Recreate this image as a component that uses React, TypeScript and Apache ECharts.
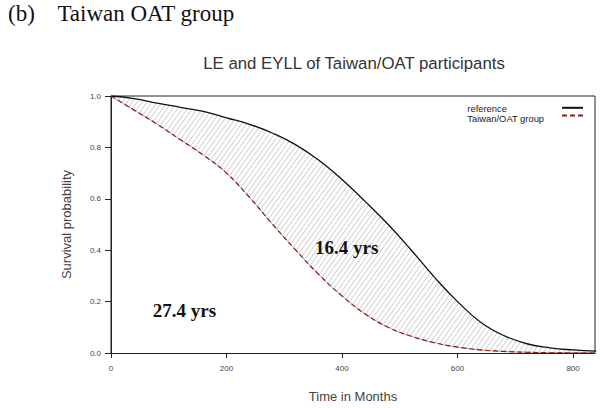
import React, { useEffect, useRef } from "react";
import * as echarts from "echarts";

const months = [0, 40, 80, 120, 160, 200, 240, 280, 320, 360, 400, 440, 480, 520, 560, 600, 640, 680, 720, 760, 800, 840];
const referenceSurv = [1.0, 0.99, 0.972, 0.956, 0.94, 0.915, 0.89, 0.855, 0.81, 0.75, 0.675, 0.59, 0.5, 0.4, 0.295, 0.2, 0.12, 0.068, 0.036, 0.02, 0.012, 0.007];
const oatSurv = [1.0, 0.945, 0.89, 0.83, 0.77, 0.7, 0.605, 0.5, 0.4, 0.305, 0.222, 0.152, 0.1, 0.065, 0.04, 0.023, 0.012, 0.006, 0.003, 0.001, 0.0, 0.0];
const yTicks = [0, 0.2, 0.4, 0.6, 0.8, 1.0];
const xTicks = [0, 200, 400, 600, 800];
const seriesNames = ["reference", "Taiwan/OAT group"];
const annotations = [
  { text: "16.4 yrs", month: 408, surv: 0.41 },
  { text: "27.4 yrs", month: 127, surv: 0.165 },
];

function makeHatch() {
  const w = 5;
  const h = 7;
  const c = document.createElement("canvas");
  c.width = w;
  c.height = h;
  const ctx = c.getContext("2d")!;
  ctx.strokeStyle = "#b4b4b4";
  ctx.lineWidth = 0.7;
  for (const off of [-w, 0, w]) {
    ctx.beginPath();
    ctx.moveTo(off - w * 0.3, h + h * 0.3);
    ctx.lineTo(off + w * 1.3, -h * 0.3);
    ctx.stroke();
  }
  return { image: c.toDataURL(), repeat: "repeat", imageWidth: w, imageHeight: h };
}

export default function App() {
  const ref = useRef<HTMLDivElement>(null);
  useEffect(() => {
    if (!ref.current) return;
    const chart = echarts.init(ref.current, null, { renderer: "svg" });
    const oatPts = months.map((m, i) => [m, oatSurv[i]]);
    const refPts = months.map((m, i) => [m, referenceSurv[i]]);
    const labelStyle = { fontFamily: "Liberation Sans, Arial, sans-serif", color: "#444", fontSize: 8 };
    const smoothOpts = { smooth: 0.45 };
    chart.setOption({
      animation: false,
      backgroundColor: "#fff",
      title: [
        {
          text: "(b)    Taiwan OAT group",
          left: 3,
          top: -3,
          textStyle: { fontFamily: "Liberation Serif, Times New Roman, serif", fontSize: 23, fontWeight: "normal", color: "#111" },
        },
        {
          text: "LE and EYLL of Taiwan/OAT participants",
          left: 349,
          textAlign: "center",
          top: 50,
          textStyle: { fontFamily: "Liberation Sans, Arial, sans-serif", fontSize: 16.8, fontWeight: "normal", color: "#333" },
        },
      ],
      legend: [
        {
          data: seriesNames,
          orient: "vertical",
          left: 453,
          top: 99,
          itemWidth: 1,
          itemHeight: 9.5,
          itemGap: 0,
          itemStyle: { opacity: 0 },
          lineStyle: { opacity: 0 },
          selectedMode: false,
          textStyle: { fontFamily: "Liberation Sans, Arial, sans-serif", fontSize: 9.4, color: "#222", lineHeight: 9.5 },
        },
        {
          data: seriesNames,
          orient: "vertical",
          left: 556,
          top: 99,
          itemWidth: 21,
          itemHeight: 9.5,
          itemGap: 0,
          itemStyle: { opacity: 0 },
          selectedMode: false,
          formatter: () => "",
          textStyle: { fontSize: 9.4, lineHeight: 9.5 },
        },
      ],
      grid: { left: 111, top: 96, width: 484, height: 257, show: true, borderColor: "#222", borderWidth: 1, backgroundColor: "transparent" },
      xAxis: {
        type: "value",
        min: 0,
        max: 838,
        interval: 200,
        z: 10,
        name: "Time in Months",
        nameLocation: "middle",
        nameGap: 37,
        nameTextStyle: { fontFamily: "Liberation Sans, Arial, sans-serif", fontSize: 13, color: "#444" },
        axisLine: { show: true, lineStyle: { color: "#222", width: 1 } },
        axisTick: { show: true, length: 5, lineStyle: { color: "#222" }, customValues: xTicks },
        axisLabel: { ...labelStyle, margin: 11, customValues: xTicks, formatter: (v: number) => String(v) },
        splitLine: { show: false },
      },
      yAxis: {
        type: "value",
        min: 0,
        max: 1,
        interval: 0.2,
        z: 10,
        name: "Survival probability",
        nameLocation: "middle",
        nameGap: 38,
        nameTextStyle: { fontFamily: "Liberation Sans, Arial, sans-serif", fontSize: 13, color: "#444" },
        axisLine: { show: true, lineStyle: { color: "#222", width: 1 } },
        axisTick: { show: true, length: 6, lineStyle: { color: "#222" }, customValues: yTicks },
        axisLabel: { ...labelStyle, margin: 10, customValues: yTicks, formatter: (v: number) => v.toFixed(1) },
        splitLine: { show: false },
      },
      series: [
        {
          name: "hatch",
          type: "line",
          data: refPts,
          symbol: "none",
          ...smoothOpts,
          lineStyle: { width: 0, opacity: 0 },
          areaStyle: { color: makeHatch(), opacity: 1, origin: "start" },
          silent: true,
          z: 1,
        },
        {
          name: "cover",
          type: "line",
          data: oatPts,
          symbol: "none",
          ...smoothOpts,
          lineStyle: { width: 0, opacity: 0 },
          areaStyle: { color: "#ffffff", opacity: 1, origin: "start" },
          silent: true,
          z: 2,
        },
        {
          name: "oatUnder",
          type: "line",
          data: oatPts,
          symbol: "none",
          ...smoothOpts,
          lineStyle: { color: "#e39a9a", width: 1 },
          silent: true,
          z: 3,
        },
        {
          name: seriesNames[1],
          type: "line",
          data: oatPts,
          symbol: "none",
          ...smoothOpts,
          color: "#7a1f1f",
          lineStyle: { color: "#7a1f1f", width: 1.2, type: [5, 3] },
          z: 4,
        },
        {
          name: seriesNames[0],
          type: "line",
          data: refPts,
          symbol: "none",
          ...smoothOpts,
          color: "#111",
          lineStyle: { color: "#111", width: 1.3 },
          z: 5,
          markPoint: {
            symbol: "circle",
            symbolSize: 0,
            silent: true,
            label: {
              show: true,
              position: "inside",
              formatter: (p: any) => p.name,
              fontFamily: "Liberation Serif, Times New Roman, serif",
              fontWeight: "bold",
              fontSize: 19,
              color: "#111",
            },
            data: annotations.map((a) => ({ name: a.text, coord: [a.month, a.surv] })),
          },
        },
      ],
    });
    return () => chart.dispose();
  }, []);
  return <div ref={ref} style={{ width: 604, height: 408, position: "absolute", left: 0, top: 0 }} />;
}
